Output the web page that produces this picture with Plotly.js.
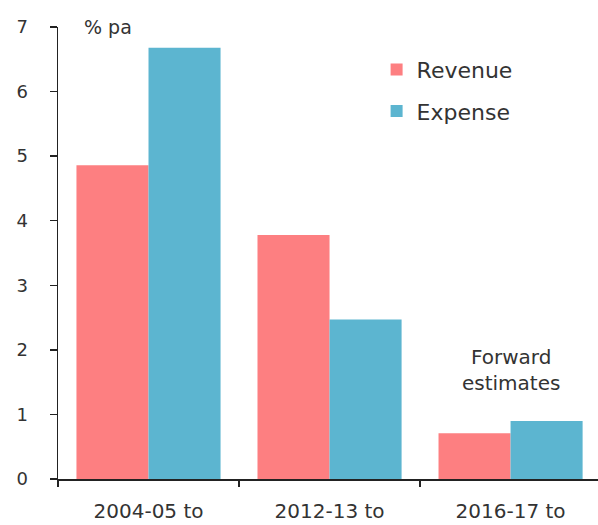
<!DOCTYPE html>
<html>
<head>
<meta charset="utf-8">
<script src="https://cdn.plot.ly/plotly-3.0.1.min.js"></script>
<style>html,body{margin:0;padding:0;background:#fff;}#chart{width:598px;height:525px;}</style>
</head>
<body>
<div id="chart"></div>
<script>
var categories = ["2004-05 to", "2012-13 to", "2016-17 to"];
var revenue = [4.86, 3.78, 0.71];
var expense = [6.68, 2.47, 0.90];
var yTicks = [0, 1, 2, 3, 4, 5, 6, 7];

var FONT = "DejaVu Sans, sans-serif";
var TXT = "#333333";

var traces = [
  {type: "bar", name: "Revenue", x: categories, y: revenue,
   marker: {color: "#fd7f81"}, legendgroup: "r"},
  {type: "bar", name: "Expense", x: categories, y: expense,
   marker: {color: "#5cb5d0"}, legendgroup: "e"}
];

var layout = {
  width: 598, height: 525,
  margin: {l: 58, r: 0, t: 27, b: 46, pad: 0},
  paper_bgcolor: "#ffffff", plot_bgcolor: "#ffffff",
  barmode: "group", bargap: 0.204, bargroupgap: 0,
  font: {family: FONT, color: TXT},
  showlegend: true,
  legend: {x: 0.59, y: 0.952, xanchor: "left", yanchor: "top",
    font: {family: FONT, size: 22, color: TXT},
    traceorder: "grouped", tracegroupgap: 10, bgcolor: "rgba(0,0,0,0)",
    itemwidth: 30},
  xaxis: {
    type: "category", range: [-0.5, 2.483],
    showline: true, linecolor: "#222", linewidth: 1.5,
    ticks: "outside", tickson: "boundaries", ticklen: 6, tickcolor: "#222", tickwidth: 1.5,
    showgrid: false, zeroline: false,
    tickfont: {family: FONT, size: 20, color: TXT},
    ticklabelstandoff: 13
  },
  yaxis: {
    range: [0, 7], tickvals: yTicks,
    showline: true, linecolor: "#222", linewidth: 1.5,
    ticks: "outside", ticklen: 7, tickcolor: "#222", tickwidth: 1.5,
    showgrid: false, zeroline: false,
    tickfont: {family: FONT, size: 18, color: TXT},
    ticklabelstandoff: 18
  },
  annotations: [
    {text: "% pa", xref: "paper", yref: "y", x: 0.044, y: 7, xanchor: "left", yanchor: "middle",
     showarrow: false, font: {family: FONT, size: 19, color: TXT}},
    {text: "Forward<br>estimates", xref: "x", yref: "y", x: 2, y: 1.69, xanchor: "center", yanchor: "middle",
     showarrow: false, font: {family: FONT, size: 20, color: TXT}}
  ]
};

Plotly.newPlot("chart", traces, layout, {displayModeBar: false, staticPlot: true});
</script>
</body>
</html>
